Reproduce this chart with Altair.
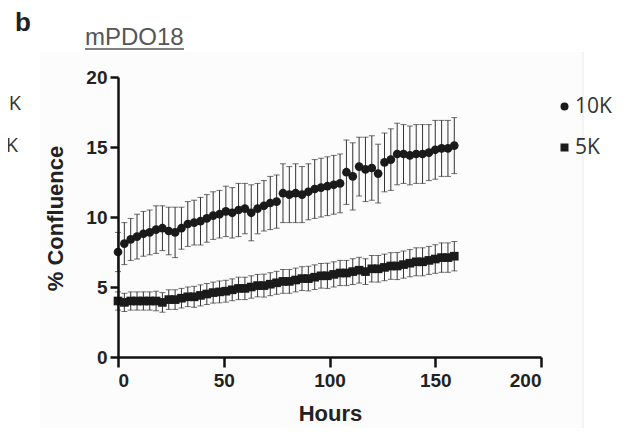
import altair as alt
import pandas as pd

# ---- data ----
hours = [0, 3, 6, 9, 12, 15, 18, 21, 24,
         27, 30, 33, 36, 39, 42, 45, 48, 51,
         54, 57, 60, 63, 66, 69, 72, 75, 78,
         81, 84, 87, 90, 93, 96, 99, 102, 105,
         108, 111, 114, 117, 120, 123, 126, 129, 132,
         135, 138, 141, 144, 147, 150, 153, 156, 159]

mean_10k = [7.5, 8.1, 8.4, 8.6, 8.8, 8.9, 9.1, 9.2, 9.0,
            8.9, 9.2, 9.5, 9.6, 9.7, 9.9, 10.1, 10.2, 10.4,
            10.3, 10.5, 10.6, 10.3, 10.6, 10.8, 11.0, 11.1, 11.7,
            11.6, 11.7, 11.6, 11.8, 12.0, 12.1, 12.2, 12.3, 12.4,
            13.2, 12.9, 13.6, 13.4, 13.5, 13.1, 13.9, 14.1, 14.5,
            14.5, 14.4, 14.5, 14.5, 14.6, 14.8, 14.9, 14.9, 15.1]

sd_10k = [1.4, 1.5, 1.5, 1.6, 1.6, 1.6, 1.7, 1.6, 1.7,
          1.8, 1.5, 1.6, 1.6, 1.7, 1.7, 1.7, 1.7, 1.8,
          1.8, 1.9, 1.8, 2.0, 1.8, 1.8, 1.9, 1.9, 2.1,
          2.0, 2.1, 2.0, 2.0, 2.1, 2.1, 2.1, 2.1, 2.1,
          2.3, 2.4, 2.1, 2.3, 2.3, 2.1, 2.1, 2.2, 2.2,
          2.1, 2.1, 2.1, 2.1, 2.0, 2.1, 2.0, 2.0, 2.0]

mean_5k = [4.0, 3.9, 4.0, 4.0, 4.0, 4.0, 4.0, 3.9, 4.1,
           4.1, 4.2, 4.3, 4.3, 4.4, 4.5, 4.6, 4.65, 4.7,
           4.8, 4.9, 4.9, 5.0, 5.1, 5.1, 5.2, 5.3, 5.4,
           5.4, 5.5, 5.6, 5.6, 5.7, 5.8, 5.8, 5.9, 6.0,
           6.0, 6.1, 6.2, 6.1, 6.3, 6.3, 6.4, 6.5, 6.5,
           6.6, 6.7, 6.8, 6.8, 6.9, 7.0, 7.1, 7.1, 7.2]

sd_5k = [0.65, 0.65, 0.65, 0.65, 0.65, 0.65, 0.7, 0.7, 0.7,
         0.7, 0.7, 0.7, 0.75, 0.75, 0.75, 0.75, 0.78, 0.78,
         0.78, 0.8, 0.8, 0.8, 0.8, 0.82, 0.82, 0.82, 0.85,
         0.85, 0.85, 0.85, 0.88, 0.88, 0.88, 0.9, 0.9, 0.9,
         0.9, 0.92, 0.92, 0.92, 0.95, 0.95, 0.95, 0.95, 0.97,
         0.97, 0.97, 1.0, 1.0, 1.0, 1.02, 1.05, 1.05, 1.05]

series_names = ["10K", "5K"]
x_ticks = [0, 50, 100, 150, 200]
y_ticks = [0, 5, 10, 15, 20]

rows = []
for h, m, s in zip(hours, mean_10k, sd_10k):
    rows.append({"series": "10K", "hours": h, "mean": m, "sd": s})
for h, m, s in zip(hours, mean_5k, sd_5k):
    rows.append({"series": "5K", "hours": h, "mean": m, "sd": s})
df = pd.DataFrame(rows)

W, H = 423, 280
INK = "#1a1a1a"
FONT = "Liberation Sans"

xs = alt.Scale(domain=[0, 200], nice=False, zero=False)
ys = alt.Scale(domain=[0, 20], nice=False)

x_axis = alt.Axis(values=x_ticks, title="Hours", tickSize=10, labelPadding=4, zindex=2,
                  titleX=212, titleY=56, titleBaseline="middle", titleAlign="center")
y_axis = alt.Axis(values=y_ticks, title="% Confluence", tickSize=8, labelPadding=3, zindex=2,
                  titleX=-63, titleY=141, titleBaseline="middle", titleAlign="center")


def xenc():
    return alt.X("hours:Q", scale=xs, axis=x_axis)


def yenc(field):
    return alt.Y(field + ":Q", scale=ys, axis=y_axis)


base = alt.Chart(df).transform_calculate(
    lo="datum.mean - datum.sd", hi="datum.mean + datum.sd"
)

bars = base.mark_rule(color="#333333", strokeWidth=1).encode(
    x=xenc(), y=yenc("lo"), y2=alt.Y2("hi:Q")
)
cap_lo = base.mark_tick(color="#333333", orient="horizontal", size=6, thickness=1).encode(
    x=xenc(), y=yenc("lo")
)
cap_hi = base.mark_tick(color="#333333", orient="horizontal", size=6, thickness=1).encode(
    x=xenc(), y=yenc("hi")
)

points = base.mark_point(filled=True, size=75, opacity=1, color=INK).encode(
    x=xenc(),
    y=yenc("mean"),
    shape=alt.Shape(
        "series:N",
        scale=alt.Scale(domain=series_names, range=["circle", "square"]),
        legend=alt.Legend(
            title=None, orient="none", legendX=436, legendY=19, padding=0,
            rowPadding=19, labelOffset=0, symbolSize=64,
            symbolFillColor=INK, symbolStrokeColor=INK, symbolStrokeWidth=0,
            labelFont="Open Sans", labelFontSize=21, labelColor="#333333",
        ),
    ),
)

one = pd.DataFrame({"k": [0]})
panel_bg = alt.Chart(one).mark_rect(fill="#fcfcfc").encode(
    x=alt.value(-78), x2=alt.value(465), y=alt.value(-25), y2=alt.value(360)
)
panel_edge = alt.Chart(one).mark_rule(color="#ececec", strokeWidth=1).encode(
    x=alt.value(465), y=alt.value(-25), y2=alt.value(360)
)

label_b = alt.Chart(pd.DataFrame({"t": ["b"]})).mark_text(
    font=FONT, fontWeight="bold", fontSize=26, color="#222222", align="left", baseline="alphabetic"
).encode(text="t:N", x=alt.value(-103), y=alt.value(-46))

label_d = alt.Chart(pd.DataFrame({"t": ["d"]})).mark_text(
    font=FONT, fontWeight="bold", fontSize=26, color="#222222", align="left", baseline="alphabetic"
).encode(text="t:N", x=alt.value(-104), y=alt.value(372))

title_txt = alt.Chart(pd.DataFrame({"t": ["mPDO18"]})).mark_text(
    font=FONT, fontSize=24, color="#555555", align="left", baseline="alphabetic"
).encode(text="t:N", x=alt.value(-33), y=alt.value(-32))
title_line = alt.Chart(one).mark_rule(color="#555555", strokeWidth=1.5).encode(
    x=alt.value(-33), x2=alt.value(66), y=alt.value(-28)
)

frag_a = alt.Chart(pd.DataFrame({"t": ["10K"]})).mark_text(
    font="Open Sans", fontSize=20, color="#333333", align="right", baseline="middle"
).encode(text="t:N", x=alt.value(-97), y=alt.value(27))
frag_b = alt.Chart(pd.DataFrame({"t": ["5K"]})).mark_text(
    font="Open Sans", fontSize=20, color="#333333", align="right", baseline="middle"
).encode(text="t:N", x=alt.value(-100), y=alt.value(69))

chart = alt.layer(
    panel_bg, panel_edge, bars, cap_lo, cap_hi, points,
    label_b, label_d, title_txt, title_line, frag_a, frag_b
).properties(
    width=W, height=H,
    autosize=alt.AutoSizeParams(type="none"),
    padding={"left": 110, "top": 69, "right": 72, "bottom": 71},
).configure_view(stroke=None).configure_axis(
    grid=False, domainColor="#111111", domainWidth=2.5, tickColor="#111111", tickWidth=2.5,
    labelFont=FONT, labelFontWeight="bold", labelFontSize=19, labelColor="#222222",
    titleFont=FONT, titleFontWeight="bold", titleFontSize=22, titleColor="#222222",
)

chart.save("out.html", embed_options={"renderer": "svg", "actions": False})
